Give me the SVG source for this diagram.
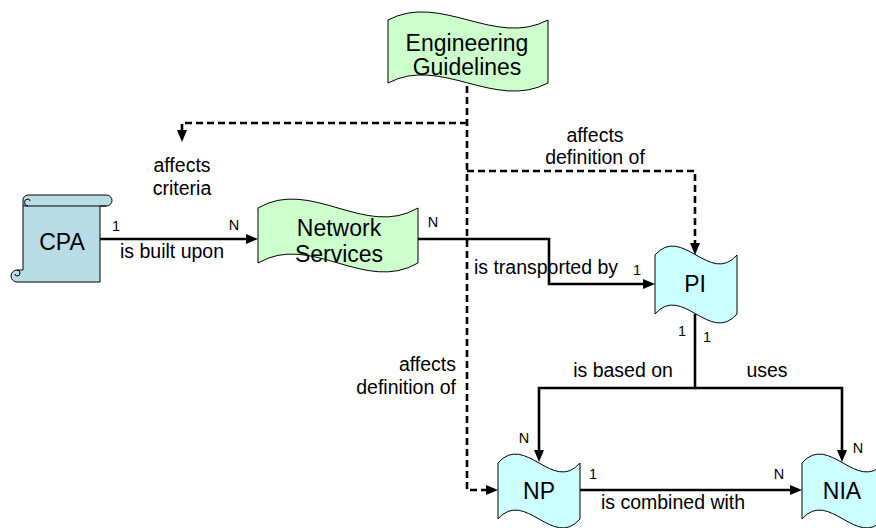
<svg xmlns="http://www.w3.org/2000/svg" width="876" height="528" viewBox="0 0 876 528">
<defs>
<style>
.node{stroke:#000;stroke-width:1}
.green{fill:#ccffcc}
.cyan{fill:#ccffff}
.cpa{fill:#b8dde6}
.nt{font-family:"Liberation Sans",Arial,sans-serif;font-size:23px;fill:#000;text-anchor:middle}
.lb{font-family:"Liberation Sans",Arial,sans-serif;font-size:19.5px;fill:#000;text-anchor:middle}
.cd{font-family:"Liberation Sans",Arial,sans-serif;font-size:14.5px;fill:#000;text-anchor:middle}
.solid{fill:none;stroke:#000;stroke-width:2.6}
.dash{fill:none;stroke:#000;stroke-width:2.6;stroke-dasharray:7 4}
</style>
<marker id="arr" viewBox="0 0 12 10" refX="6" refY="5" markerWidth="12" markerHeight="10" orient="auto" markerUnits="userSpaceOnUse">
<path d="M0,0 L12,5 L0,10 Z" fill="#000"/>
</marker>
</defs>
<rect width="876" height="528" fill="#fff"/>

<g id="connectors">
<path class="solid" d="M100,239 H252" marker-end="url(#arr)"/>
<path class="solid" d="M418,239 H549 V284 H649" marker-end="url(#arr)"/>
<path class="solid" d="M695,314 V388 H539 V456" marker-end="url(#arr)"/>
<path class="solid" d="M695,388 H842 V456" marker-end="url(#arr)"/>
<path class="solid" d="M580,490 H796" marker-end="url(#arr)"/>
<path class="dash" d="M467,86 V490 H492" marker-end="url(#arr)"/>
<path class="dash" d="M467,123 H182 V136" marker-end="url(#arr)"/>
<path class="dash" d="M467,171 H695 V249" marker-end="url(#arr)"/>
</g>

<g id="labels">
<text class="lb" x="182" y="172">affects</text>
<text class="lb" x="182" y="195">criteria</text>
<text class="lb" x="595" y="142">affects</text>
<text class="lb" x="595" y="164">definition of</text>
<text class="lb" x="456" y="371" style="text-anchor:end">affects</text>
<text class="lb" x="456" y="394" style="text-anchor:end">definition of</text>
<text class="lb" x="172" y="258">is built upon</text>
<text class="lb" x="546" y="274">is transported by</text>
<text class="lb" x="623" y="377">is based on</text>
<text class="lb" x="767" y="377">uses</text>
<text class="lb" x="673" y="509">is combined with</text>
<text class="cd" x="116" y="231">1</text>
<text class="cd" x="234" y="230">N</text>
<text class="cd" x="433" y="227">N</text>
<text class="cd" x="637" y="275">1</text>
<text class="cd" x="682" y="336">1</text>
<text class="cd" x="707" y="342">1</text>
<text class="cd" x="524" y="443">N</text>
<text class="cd" x="858" y="453">N</text>
<text class="cd" x="593" y="479">1</text>
<text class="cd" x="779" y="479">N</text>
</g>

<g id="node-eg">
<path class="node green" d="M388,20 C441,-8 495,48 548,20 L548,83 C495,111 441,55 388,83 Z"/>
<text class="nt" x="467" y="51">Engineering</text>
<text class="nt" x="467" y="75">Guidelines</text>
</g>

<g id="node-cpa">
<path class="node cpa" d="M28,195 H106.5 A5.5,5.5 0 0 1 106.5,206 H100 V282 H17 A6,6 0 0 1 17,270 H23 V200 A5,5 0 0 1 28,195 Z"/>
<path fill="none" stroke="#000" stroke-width="1" d="M23,206 H106.5"/>
<path fill="none" stroke="#000" stroke-width="1" d="M28,206 A3.5,3.5 0 0 1 28,199 A2,2 0 0 1 30,201"/>
<path fill="none" stroke="#000" stroke-width="1" d="M17,270 A3,3 0 0 1 17,276 A2,2 0 0 1 15,274"/>
<text class="nt" x="62" y="250">CPA</text>
</g>

<g id="node-ns">
<path class="node green" d="M258,208 C311,177 365,239 418,208 L418,263 C365,294 311,232 258,263 Z"/>
<text class="nt" x="339" y="236">Network</text>
<text class="nt" x="339" y="262">Services</text>
</g>

<g id="node-pi">
<path class="node cyan" d="M655,255 C682,224 710,286 737,255 L737,314 C710,345 682,283 655,314 Z"/>
<text class="nt" x="695" y="292">PI</text>
</g>

<g id="node-np">
<path class="node cyan" d="M498,463 C525,432 553,494 580,463 L580,519 C553,550 525,488 498,519 Z"/>
<text class="nt" x="539" y="499">NP</text>
</g>

<g id="node-nia">
<path class="node cyan" d="M802,463 C829,432 857,494 884,463 L884,519 C857,550 829,488 802,519 Z"/>
<text class="nt" x="842" y="499">NIA</text>
</g>
</svg>
